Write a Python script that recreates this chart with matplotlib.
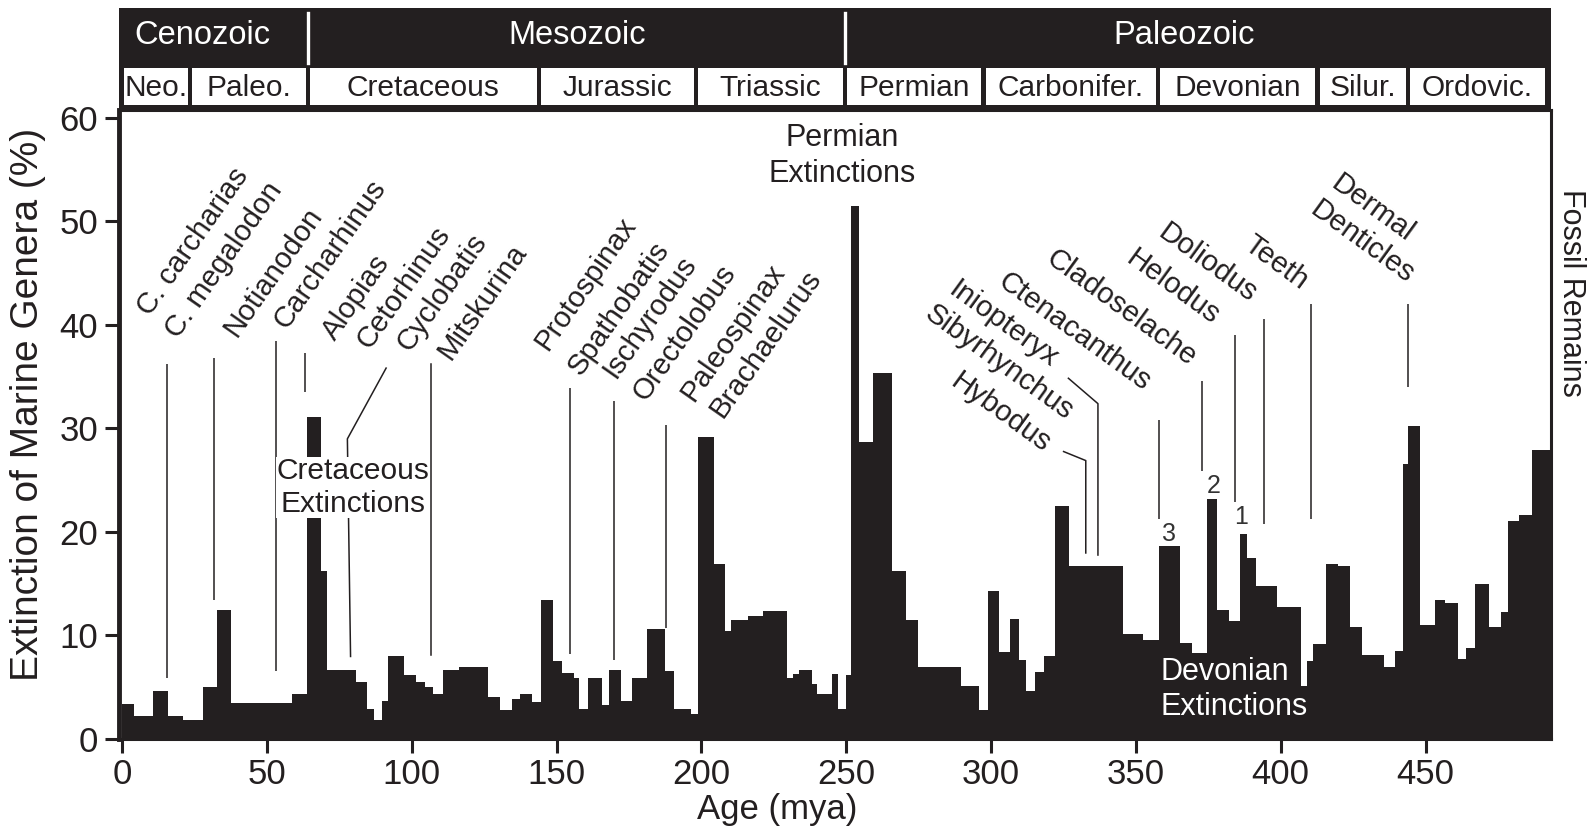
import matplotlib
matplotlib.use("Agg")
import matplotlib.pyplot as plt
from matplotlib.patches import Rectangle

plt.rcParams['font.family'] = ['Liberation Sans', 'DejaVu Sans']

INK = '#231f20'

# ---- data: extinction of marine genera, step per interval (mya) ----
age_edges = [0, 4.1, 10.6, 16.0, 21.2, 27.8, 32.9, 37.5, 58.6, 63.8, 68.6, 70.9,
             80.8, 84.6, 87.0, 89.8, 91.9, 97.3, 101.5, 104.6, 107.4, 110.7, 116.4,
             126.4, 130.5, 134.5, 137.4, 141.4, 144.8, 148.8, 151.8, 156.0, 157.9,
             161.0, 165.6, 168.2, 172.2, 175.9, 181.4, 187.4, 190.5, 196.3, 198.9,
             204.2, 208.2, 210.1, 216.0, 221.4, 229.4, 231.7, 233.8, 238.1, 239.8,
             245.0, 247.3, 249.9, 251.6, 254.4, 259.4, 265.8, 270.6, 274.9, 289.6,
             296.0, 299.0, 302.9, 306.5, 309.8, 312.2, 315.2, 318.2, 322.1, 327.0,
             345.6, 352.3, 357.9, 365.3, 369.5, 374.7, 378.0, 382.2, 385.9, 388.2,
             391.6, 398.7, 407.1, 409.1, 411.3, 415.8, 419.6, 424.0, 428.2, 435.8,
             439.4, 442.2, 444.0, 448.0, 453.1, 456.8, 461.2, 464.0, 467.2, 472.0,
             475.9, 478.6, 482.1, 486.6, 493.3]
extinction_pct = [3.4, 2.2, 4.6, 2.2, 1.8, 5.0, 12.5, 3.5, 4.3, 31.1, 16.2, 6.7,
                  5.5, 2.9, 1.8, 3.7, 8.0, 6.2, 5.5, 5.0, 4.3, 6.7, 7.0,
                  4.1, 2.8, 3.9, 4.35, 3.6, 13.4, 7.5, 6.4, 5.9, 2.9,
                  5.9, 3.3, 6.7, 3.7, 5.9, 10.6, 6.6, 2.9, 2.4, 29.2,
                  16.9, 10.4, 11.5, 11.9, 12.4, 5.9, 6.3, 6.7, 5.3, 4.3,
                  6.3, 2.9, 6.2, 51.5, 28.7, 35.4, 16.2, 11.5, 7.0, 5.1,
                  2.8, 14.3, 8.4, 11.6, 7.6, 4.6, 6.5, 8.0, 22.5, 16.7,
                  10.1, 9.6, 18.6, 9.3, 8.3, 23.2, 12.5, 11.4, 19.8, 17.5,
                  14.8, 12.8, 5.1, 7.5, 9.2, 16.9, 16.7, 10.85, 8.1, 7.0,
                  8.5, 26.6, 30.2, 11.0, 13.4, 13.1, 7.75, 8.8, 15.0, 10.85,
                  12.3, 21.1, 21.6, 27.9]

era_names = ['Cenozoic', 'Mesozoic', 'Paleozoic']
era_bounds = [0, 64.2, 249.6, 493.3]
period_names = ['Neo.', 'Paleo.', 'Cretaceous', 'Jurassic', 'Triassic', 'Permian',
                'Carbonifer.', 'Devonian', 'Silur.', 'Ordovic.']
period_bounds = [0, 23.4, 64.2, 143.9, 198.1, 249.6, 297.4, 357.6, 412.7, 443.9, 492.0]

left_genera = ['C. carcharias', 'C. megalodon', 'Notianodon', 'Carcharhinus', 'Alopias',
               'Cetorhinus', 'Cyclobatis', 'Mitskurina', 'Protospinax', 'Spathobatis',
               'Ischyrodus', 'Orectolobus', 'Paleospinax', 'Brachaelurus']
right_genera = ['Dermal', 'Denticles', 'Teeth', 'Doliodus', 'Helodus', 'Cladoselache',
                'Ctenacanthus', 'Iniopteryx', 'Sibyrhynchus', 'Hybodus']
event_marks = ['3', '2', '1']

# ---- layout (positions in mya / %) ----
era_label_x = [27.7, 157.0, 366.7]
left_xy = [(9.8, 40.8), (19.4, 38.6), (39.6, 38.7), (56.8, 39.5), (73.7, 38.4),
           (85.5, 37.6), (99.2, 37.3), (113.6, 36.5), (147.1, 37.4), (158.3, 35.0),
           (170.4, 34.7), (180.7, 32.6), (197.3, 32.5), (207.5, 30.9)]
right_xy = [(443.4, 48.0), (443.4, 43.9), (406.7, 43.4), (389.1, 42.1), (376.3, 40.0),
            (368.4, 36.0), (352.4, 33.6), (320.4, 35.8), (325.8, 30.8), (317.8, 27.6)]
mark_xy = [(361.3, 19.8), (376.7, 24.4), (386.2, 21.4)]
leaders = [
    [(15.7, 36.2), (15.7, 5.9)],
    [(31.8, 36.8), (31.8, 13.4)],
    [(53.0, 38.5), (53.0, 6.6)],
    [(63.0, 37.3), (63.0, 33.5)],
    [(91.3, 35.9), (77.8, 29.0), (78.9, 7.9)],
    [(154.6, 33.9), (154.6, 8.2)],
    [(169.7, 32.7), (169.7, 7.6)],
    [(187.7, 30.3), (187.7, 10.7)],
    [(324.8, 27.8), (332.7, 26.9), (332.7, 17.9)],
    [(326.5, 34.9), (336.9, 32.4), (336.9, 17.7)],
    [(358.1, 30.8), (358.1, 21.3)],
    [(372.8, 34.6), (372.8, 25.9)],
    [(384.2, 39.0), (384.2, 22.9)],
    [(394.2, 40.6), (394.2, 20.8)],
    [(410.4, 42.0), (410.4, 21.3)],
    [(443.9, 42.0), (443.9, 34.0)],
]
mitsk_leader = [(106.7, 36.2), (106.7, 8.1)]

W, H = 1594, 836
fig = plt.figure(figsize=(W / 100, H / 100), dpi=100)

x0, x1 = -1.04, 493.3
ax = fig.add_axes([119 / W, 1 - 739 / H, (1551 - 119) / W, (739 - 110) / H])
ax.stairs(extinction_pct, age_edges, fill=True, color=INK, baseline=0, zorder=2)
ax.set_xlim(x0, x1)
ax.set_ylim(0, 60.77)
ax.set_xticks(range(0, 451, 50))
ax.set_yticks(range(0, 61, 10))
ax.tick_params(axis='both', direction='out', length=10, width=2.2, color=INK,
               labelsize=25, labelcolor=INK)
ax.tick_params(axis='x', pad=4)
ax.tick_params(axis='y', pad=5)
for side, sp in ax.spines.items():
    sp.set_color(INK)
    sp.set_linewidth(2.2)
ax.spines['left'].set_linewidth(3.5)

for pts in leaders:
    xs, ys = zip(*pts)
    ax.plot(xs, ys, color=INK, lw=1.1, zorder=3, solid_capstyle='butt')
xs, ys = zip(*mitsk_leader)
ax.plot(xs, ys, color=INK, lw=1.1, zorder=6)

for name, (x, y) in zip(left_genera, left_xy):
    ax.text(x, y, name, rotation=55, rotation_mode='anchor', ha='left', va='baseline',
            fontsize=21.2, color=INK, zorder=4)
for name, (x, y) in zip(right_genera, right_xy):
    ax.text(x, y, name, rotation=-36, rotation_mode='anchor', ha='right', va='baseline',
            fontsize=21.2, color=INK, zorder=4)
for m, (x, y) in zip(event_marks, mark_xy):
    ax.text(x, y, m, ha='center', va='center', fontsize=18, color='#333333', zorder=4)

ax.text(248.5, 56.3, 'Permian\nExtinctions', ha='center', va='center', fontsize=22,
        color=INK, linespacing=1.25, zorder=4)
ax.text(79.7, 24.3, 'Cretaceous\nExtinctions', ha='center', va='center', fontsize=21.5,
        color=INK, linespacing=1.22, zorder=5,
        bbox=dict(facecolor='white', edgecolor='none', pad=0.3))
ax.text(358.6, 4.8, 'Devonian\nExtinctions', ha='left', va='center', fontsize=22,
        color='white', linespacing=1.2, zorder=4)

# ---- geologic time header ----
hx = fig.add_axes([119 / W, 1 - 110 / H, (1551 - 119) / W, (110 - 8) / H])
hx.set_facecolor(INK)
hx.set_xlim(x0, x1)
hx.set_ylim(0, 1)
hx.set_xticks([])
hx.set_yticks([])
for sp in hx.spines.values():
    sp.set_visible(False)

pad = 0.75
for i, name in enumerate(period_names):
    a, b = period_bounds[i] + pad, period_bounds[i + 1] - pad
    hx.add_patch(Rectangle((a, 0.049), b - a, 0.363, facecolor='white', edgecolor='none'))
    hx.text((a + b) / 2, 0.215, name, ha='center', va='center', fontsize=21.5, color=INK)
for name, xc in zip(era_names, era_label_x):
    hx.text(xc, 0.735, name, ha='center', va='center', fontsize=23.5, color='white')
for b in era_bounds[1:-1]:
    hx.plot([b, b], [0.461, 0.951], color='white', lw=2.4)

fig.text(28.5 / W, 1 - 404 / H, 'Extinction of Marine Genera (%)', rotation=90,
         ha='center', va='center', fontsize=28, color=INK)
fig.text(776.7 / W, 1 - 810 / H, 'Age (mya)', ha='center', va='center', fontsize=25, color=INK)
fig.text(1570.7 / W, 1 - 293 / H, 'Fossil Remains', rotation=270,
         ha='center', va='center', fontsize=22, color=INK)

fig.savefig('out.png', dpi=100, facecolor='white')
